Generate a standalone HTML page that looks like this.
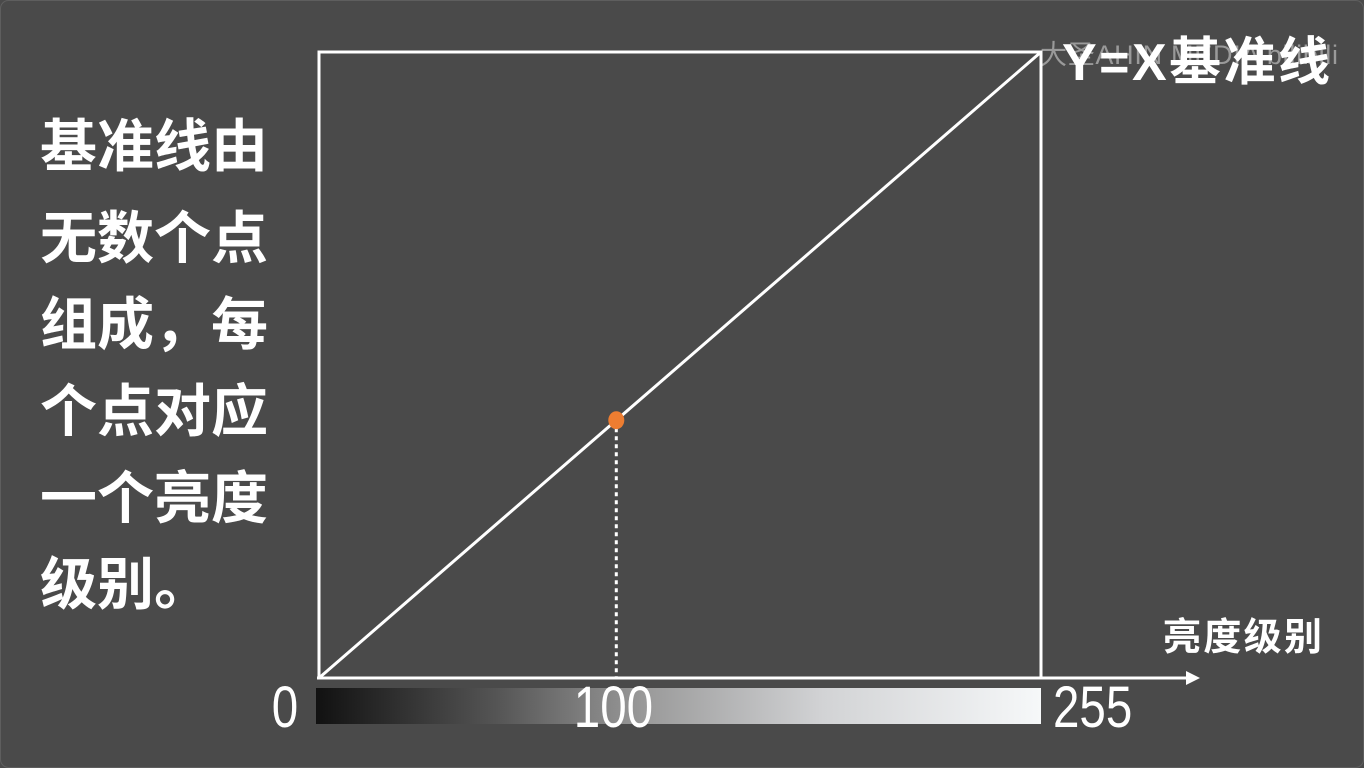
<!DOCTYPE html>
<html><head><meta charset="utf-8"><style>
html,body{margin:0;padding:0;background:#4a4a4a;}
svg{display:block;}
.cjk{font-family:"Liberation Sans","Noto Sans CJK SC",sans-serif;}
</style></head><body>
<svg width="1364" height="768" viewBox="0 0 1364 768">
<defs>
<linearGradient id="g" x1="0" x2="1" y1="0" y2="0">
<stop offset="0" stop-color="#111"/><stop offset="0.25" stop-color="#555"/><stop offset="0.45" stop-color="#999"/><stop offset="0.7" stop-color="#d2d3d5"/><stop offset="1" stop-color="#f6f8f9"/>
</linearGradient>
</defs>
<rect x="0.5" y="0.5" width="1363" height="767" rx="8" fill="#4a4a4a" stroke="#5e5e5e"/>
<g class="cjk" fill="#fff" font-weight="bold" font-size="57">
<text x="40" y="166">基准线由</text>
<text x="40" y="258">无数个点</text>
<text x="40" y="344">组成，每</text>
<text x="40" y="431">个点对应</text>
<text x="40" y="518">一个亮度</text>
<text x="40" y="604">级别。</text>
</g>
<text x="1040" y="64" class="cjk" font-size="27" fill="#9a9a9a" textLength="298">大圣AHIN MEDIA bilibili</text>
<text x="1062" y="80" class="cjk" font-size="52" font-weight="bold" fill="#fff" textLength="268">Y=X基准线</text>
<text x="1163" y="650" class="cjk" font-size="38" font-weight="bold" fill="#fff" textLength="159">亮度级别</text>
<rect x="319" y="52" width="722" height="626" fill="none" stroke="#fff" stroke-width="3"/>
<line x1="317" y1="678" x2="1190" y2="678" stroke="#fff" stroke-width="3"/>
<polygon points="1200,678 1186,671 1186,685" fill="#fff"/>
<rect x="316" y="688" width="725" height="36" fill="url(#g)"/>
<g id="marks"></g>
<g font-family="Liberation Sans, sans-serif" font-size="58" fill="#fff" id="ticks"></g>
</svg>
<script>
const lineX = [0, 255];
const lineY = [0, 255];
const pointX = [105];
const pointY = [105];
const tickLabels = ["0", "100", "255"];
const tickValues = [0, 104, 255];
const X0=319, X1=1041, Y0=678, Y1=52;
const sx = v => X0 + (v/255)*(X1-X0);
const sy = v => Y0 - (v/255)*(Y0-Y1);
const ns="http://www.w3.org/2000/svg";
const marks=document.getElementById('marks');
const ln=document.createElementNS(ns,'line');
ln.setAttribute('x1',sx(lineX[0]));ln.setAttribute('y1',sy(lineY[0]));
ln.setAttribute('x2',sx(lineX[1]));ln.setAttribute('y2',sy(lineY[1]));
ln.setAttribute('stroke','#fff');ln.setAttribute('stroke-width','3');


marks.appendChild(ln);
pointX.forEach((v,i)=>{
  const d=document.createElementNS(ns,'line');
  d.setAttribute('x1',sx(v));d.setAttribute('x2',sx(v));
  d.setAttribute('y1',sy(pointY[i]));d.setAttribute('y2',Y0);
  d.setAttribute('stroke','#fff');d.setAttribute('stroke-width','3');d.setAttribute('stroke-dasharray','4 4');
  
  
  marks.appendChild(d);
  const c=document.createElementNS(ns,'ellipse');
  c.setAttribute('cx',sx(v));c.setAttribute('cy',sy(pointY[i]));
  c.setAttribute('rx','8');c.setAttribute('ry','9');c.setAttribute('fill','#ed7d31');
  
  
  marks.appendChild(c);
});
const ticks=document.getElementById('ticks');
tickValues.forEach((v,i)=>{
  const t=document.createElementNS(ns,'text');
  let x=sx(v), anchor='middle';
  if(i===0){x=X0-34;anchor='middle';}
  if(i===tickValues.length-1){x=X1+12;anchor='start';}
  t.setAttribute('x',x);t.setAttribute('y',727);t.setAttribute('text-anchor',anchor);
  t.setAttribute('transform','translate('+x+' 727) scale(0.82 1) translate('+(-x)+' -727)');
  t.textContent=tickLabels[i];
  
  
  ticks.appendChild(t);
});
</script>
</body></html>
